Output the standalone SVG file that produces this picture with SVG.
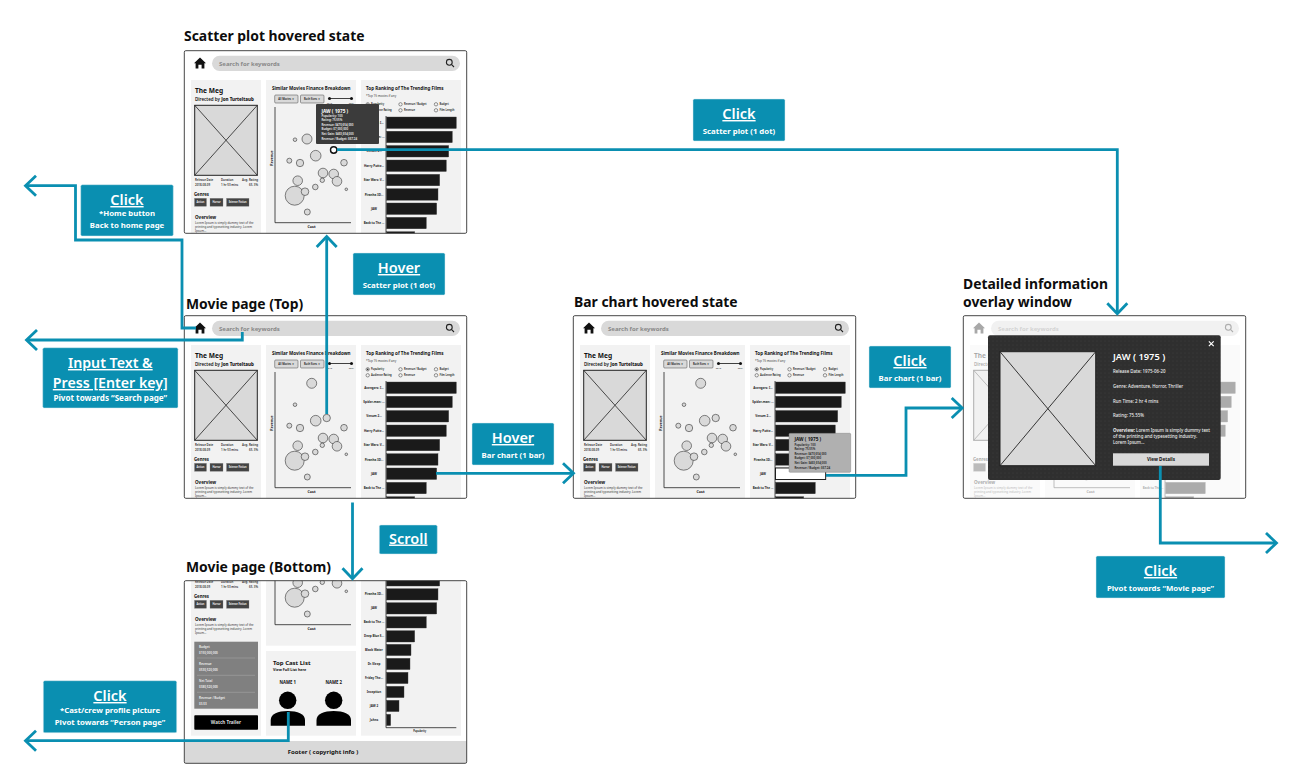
<svg xmlns="http://www.w3.org/2000/svg" width="1300" height="779" viewBox="0 0 1300 779">
<style>
text{font-family:"Noto Sans","Open Sans","Liberation Sans",sans-serif;fill:#111}
.h{font-size:13.9px;font-weight:700;fill:#0d0d0d}
.s{font-size:6px;font-weight:700;fill:#888}
.t{font-size:6.6px;font-weight:700}
.d{font-size:4.5px;font-weight:600}
.m{font-size:2.9px;font-weight:600;fill:#333}
.g{font-size:4.3px;font-weight:700}
.gb{font-size:2.5px;fill:#fff;text-anchor:middle;font-weight:600}
.o{font-size:4.5px;font-weight:700}
.ot{font-size:3px;fill:#333}
.pt{font-size:4.55px;font-weight:700}
.dd{font-size:2.6px;font-weight:600;text-anchor:middle}
.sl{font-size:2.4px;text-anchor:middle;fill:#333}
.sub{font-size:3px;fill:#333}
.r{font-size:2.6px;font-weight:600;fill:#222}
.bl{font-size:3px;font-weight:700;text-anchor:middle;fill:#222}
.ax{font-size:3.6px;font-weight:700;text-anchor:middle}
.tip{font-size:2.9px;font-weight:600;fill:#eee}
.tipt{font-size:4.7px;font-weight:700;fill:#fff}
.tipd{font-size:2.9px;font-weight:600;fill:#222}
.tipdt{font-size:4.7px;font-weight:700;fill:#111}
.ol{font-size:4.4px;fill:#eee;font-weight:500}
.w{fill:#fff;text-anchor:middle}
.bt{font-size:14.5px;font-weight:600;text-decoration:underline}
.bi{font-size:14.2px;font-weight:600;text-decoration:underline}
.bs{font-size:7.8px;font-weight:700}
.box{fill:#0a8fb1;stroke:#d5e8ee;stroke-width:.5}
.c{fill:none;stroke:#0a8fb1;stroke-width:2.8;marker-end:url(#arrow)}
.dot circle{fill:#d9d9d9;stroke:#333;stroke-width:.6}
.pn{fill:#f2f2f2}
.bar{fill:#1a1a1a;stroke:#444;stroke-width:.4}
.ps{fill:#d9d9d9;stroke:#222;stroke-width:1}
.rd{fill:#f2f2f2;stroke:#333;stroke-width:.5}
.ddr{fill:#d9d9d9;stroke:#444;stroke-width:.5}
</style>
<defs>
<marker id="arrow" markerUnits="userSpaceOnUse" markerWidth="16" markerHeight="26" refX="12" refY="13" orient="auto"><path d="M2 3 L12.5 13 L2 23" fill="none" stroke="#0a8fb1" stroke-width="2.8"/></marker>
<pattern id="dots" width="4" height="4" patternUnits="userSpaceOnUse"><rect width="4" height="4" fill="#2f2f2f"/><circle cx="1" cy="1" r=".4" fill="#4d4d4d"/></pattern>
<clipPath id="topclip"><rect x="184.3" y="315.7" width="282.4" height="182.6"/></clipPath>
<clipPath id="botclip"><rect x="184.3" y="580.7" width="282.4" height="182.6"/></clipPath>
<path id="home" d="M200 322.5 L206 328.2 H204.4 V333.5 H201.6 V329.8 H198.4 V333.5 H195.6 V328.2 H194 Z" fill="#111"/>
<g id="glass" fill="none" stroke="#222" stroke-width="1.1"><circle cx="449.3" cy="327.3" r="2.9"/><path d="M451.4 329.4 L454 332"/></g>
<g id="poster"><rect class="ps" x="194.7" y="370.3" width="62.6" height="70"/><path d="M194.7 370.3 L257.3 440.3 M257.3 370.3 L194.7 440.3" stroke="#222" stroke-width=".8"/></g>
<g id="gbtn" fill="#444" stroke="#888" stroke-width=".3"><rect x="194.5" y="463.3" width="12" height="8"/><rect x="210" y="463.3" width="13" height="8"/><rect x="226.5" y="463.3" width="22.5" height="8"/></g>
<g id="dots-shared" class="dot"><circle cx="295" cy="404.7" r="1.8"/><circle cx="315.7" cy="420.7" r="5.3"/><circle cx="289.3" cy="425.7" r="2.5"/><circle cx="300" cy="428" r="3.7"/><circle cx="344" cy="427.7" r="3.3"/><circle cx="323" cy="438" r="4.8"/><circle cx="333.7" cy="439" r="4.8"/><circle cx="322.3" cy="445.3" r="2.2"/><circle cx="337" cy="446.3" r="4.8"/><circle cx="297.7" cy="445.7" r="4.8"/><circle cx="315.3" cy="452" r="2.8"/><circle cx="346.3" cy="454.3" r="1.3"/><circle cx="294.7" cy="460.7" r="9.5"/><circle cx="305" cy="456.7" r="3.8"/><circle cx="307.3" cy="477" r="3"/></g>
<g id="page-base">
<rect x="184.3" y="315.7" width="282.4" height="182.6" fill="#fff"/>
<g clip-path="url(#topclip)">
<use href="#home"/>
<rect x="212" y="320.7" width="248" height="15.4" rx="7.7" fill="#d9d9d9"/>
<use href="#glass"/>
<rect class="pn" x="191" y="345" width="70" height="160"/>
<rect class="pn" x="266" y="345" width="90" height="160"/>
<rect class="pn" x="361" y="345" width="100" height="160"/>
<use href="#poster"/>
<use href="#gbtn"/>
<rect class="ddr" x="274.7" y="360" width="23.3" height="8" rx="1"/>
<rect class="ddr" x="300.5" y="360" width="23.5" height="8" rx="1"/>
<path d="M329.5 363.5 H351.5" stroke="#111" stroke-width=".8"/><circle cx="329.5" cy="363.5" r="1.5" fill="#111"/><circle cx="351.5" cy="363.5" r="1.5" fill="#111"/>
<path d="M275 372 V487.7 H351" fill="none" stroke="#222" stroke-width=".8"/>
<circle class="rd" cx="367.7" cy="369.3" r="1.7"/><circle cx="367.7" cy="369.3" r=".9" fill="#333"/><circle class="rd" cx="400.5" cy="369.3" r="1.7"/><circle class="rd" cx="436" cy="369.3" r="1.7"/><circle class="rd" cx="367.7" cy="375.3" r="1.7"/><circle class="rd" cx="400.5" cy="375.3" r="1.7"/><circle class="rd" cx="436" cy="375.3" r="1.7"/>
<rect class="bar" x="386.5" y="382" width="69.8" height="11.5"/><rect class="bar" x="386.5" y="396.2" width="65.8" height="11.5"/><rect class="bar" x="386.5" y="410.5" width="62.2" height="11.5"/><rect class="bar" x="386.5" y="425" width="59.8" height="11.5"/><rect class="bar" x="386.5" y="439.3" width="53.2" height="11.5"/><rect class="bar" x="386.5" y="453.7" width="51.5" height="11.5"/><rect class="bar" x="386.5" y="468" width="50.2" height="11.5"/><rect class="bar" x="386.5" y="482.3" width="39.8" height="11.5"/><rect class="bar" x="386.5" y="496.7" width="28.2" height="11.5"/>
<path d="M386 381 V499" stroke="#222" stroke-width=".8"/>
</g>
</g>
</defs>

<g id="scatter-hovered">
<text class="h" x="184" y="41">Scatter plot hovered state</text>
<g transform="translate(0,-265)">
<use href="#page-base"/>
<use href="#dots-shared"/>
<g class="dot"><circle cx="307" cy="404" r="5"/></g>
<text class="s" x="219" y="330.6">Search for keywords</text>
<text class="t" x="195" y="357.8">The Meg</text>
<text class="d" x="195" y="365.5">Directed by <tspan font-weight="800">Jon Turteltaub</tspan></text>
<text class="m" x="195" y="446">Release Date</text><text class="m" x="221" y="446">Duration</text><text class="m" x="242" y="446">Avg. Rating</text>
<text class="m" x="195" y="451">2018-08-09</text><text class="m" x="221" y="451">1 hr 53 mins</text><text class="m" x="249" y="451">65. 3%</text>
<text class="g" x="194" y="461">Genres</text>
<text class="gb" x="200.5" y="468.2">Action</text><text class="gb" x="216.5" y="468.2">Horror</text><text class="gb" x="237.7" y="468.2">Science Fiction</text>
<text class="o" x="195" y="484">Overview</text>
<text class="ot" x="195" y="489.2">Lorem Ipsum is simply dummy text of the</text><text class="ot" x="195" y="493.2">printing and typesetting industry. Lorem</text><text class="ot" x="195" y="497.2">Ipsum...</text>
<text class="pt" x="272" y="354.5">Similar Movies Finance Breakdown</text>
<text class="dd" x="286.3" y="365">All Movies ▼</text><text class="dd" x="312.2" y="365">Both Sizes ▼</text>
<text class="sl" x="329.5" y="368.5">2018</text><text class="sl" x="351.5" y="368.5">2021</text>
<text class="ax" x="311.5" y="493">Cost</text>
<text class="ax" transform="translate(272.8,423) rotate(-90)">Revenue</text>
<text class="pt" x="366" y="354.5">Top Ranking of The Trending Films</text>
<text class="sub" x="366" y="361.5">*Top 15 movies if any</text>
<text class="r" x="371" y="370.2">Popularity</text><text class="r" x="404" y="370.2">Revenue / Budget</text><text class="r" x="439.5" y="370.2">Budget</text>
<text class="r" x="371" y="376.2">Audience Rating</text><text class="r" x="404" y="376.2">Revenue</text><text class="r" x="439.5" y="376.2">Film Length</text>
<text class="bl" x="374" y="388.8">Avengers: I...</text><text class="bl" x="374" y="403">Spider-man: ...</text><text class="bl" x="374" y="417.4">Venom 2...</text><text class="bl" x="374" y="431.7">Harry Potte...</text><text class="bl" x="374" y="446.2">Star Wars: V...</text><text class="bl" x="374" y="460.5">Piranha 3D...</text><text class="bl" x="374" y="474.8">JAW</text><text class="bl" x="374" y="489.2">Back to The ...</text>
<rect x="316" y="369" width="63" height="40" rx="1" fill="#3b3b3b"/>
<text class="tipt" x="321.5" y="378">JAW ( 1975 )</text>
<text class="tip" x="321.5" y="382">Popularity: 100</text><text class="tip" x="321.5" y="386.3">Rating: 75.55%</text><text class="tip" x="321.5" y="390.8">Revenue: $470,654,000</text><text class="tip" x="321.5" y="395.2">Budget: $7,000,000</text><text class="tip" x="321.5" y="400">Net Gain: $463,654,000</text><text class="tip" x="321.5" y="404.5">Revenue / Budget: $67.24</text>
<circle cx="333.7" cy="415" r="3.2" fill="#fff" stroke="#111" stroke-width="1.4"/>
<rect x="184.3" y="315.7" width="282.4" height="182.6" rx="1.5" fill="none" stroke="#333" stroke-width=".9"/>
</g>
</g>

<g id="movie-top">
<text class="h" x="186" y="309">Movie page (Top)</text>
<use href="#page-base"/>
<use href="#dots-shared"/>
<g class="dot"><circle cx="311.7" cy="383.3" r="5"/><circle cx="326.7" cy="418" r="3.7"/></g>
<text class="s" x="219" y="330.6">Search for keywords</text>
<text class="t" x="195" y="357.8">The Meg</text>
<text class="d" x="195" y="365.5">Directed by <tspan font-weight="800">Jon Turteltaub</tspan></text>
<text class="m" x="195" y="446">Release Date</text><text class="m" x="221" y="446">Duration</text><text class="m" x="242" y="446">Avg. Rating</text>
<text class="m" x="195" y="451">2018-08-09</text><text class="m" x="221" y="451">1 hr 53 mins</text><text class="m" x="249" y="451">65. 3%</text>
<text class="g" x="194" y="461">Genres</text>
<text class="gb" x="200.5" y="468.2">Action</text><text class="gb" x="216.5" y="468.2">Horror</text><text class="gb" x="237.7" y="468.2">Science Fiction</text>
<text class="o" x="195" y="484">Overview</text>
<text class="ot" x="195" y="489.2">Lorem Ipsum is simply dummy text of the</text><text class="ot" x="195" y="493.2">printing and typesetting industry. Lorem</text><text class="ot" x="195" y="497.2">Ipsum...</text>
<text class="pt" x="272" y="354.5">Similar Movies Finance Breakdown</text>
<text class="dd" x="286.3" y="365">All Movies ▼</text><text class="dd" x="312.2" y="365">Both Sizes ▼</text>
<text class="sl" x="329.5" y="368.5">2018</text><text class="sl" x="351.5" y="368.5">2021</text>
<text class="ax" x="311.5" y="493">Cost</text>
<text class="ax" transform="translate(272.8,423) rotate(-90)">Revenue</text>
<text class="pt" x="366" y="354.5">Top Ranking of The Trending Films</text>
<text class="sub" x="366" y="361.5">*Top 15 movies if any</text>
<text class="r" x="371" y="370.2">Popularity</text><text class="r" x="404" y="370.2">Revenue / Budget</text><text class="r" x="439.5" y="370.2">Budget</text>
<text class="r" x="371" y="376.2">Audience Rating</text><text class="r" x="404" y="376.2">Revenue</text><text class="r" x="439.5" y="376.2">Film Length</text>
<text class="bl" x="374" y="388.8">Avengers: I...</text><text class="bl" x="374" y="403">Spider-man: ...</text><text class="bl" x="374" y="417.4">Venom 2...</text><text class="bl" x="374" y="431.7">Harry Potte...</text><text class="bl" x="374" y="446.2">Star Wars: V...</text><text class="bl" x="374" y="460.5">Piranha 3D...</text><text class="bl" x="374" y="474.8">JAW</text><text class="bl" x="374" y="489.2">Back to The ...</text>
<rect x="184.3" y="315.7" width="282.4" height="182.6" rx="1.5" fill="none" stroke="#333" stroke-width=".9"/>
</g>

<g id="bar-hovered">
<text class="h" x="574" y="307">Bar chart hovered state</text>
<g transform="translate(389,0)">
<use href="#page-base"/>
<use href="#dots-shared"/>
<g class="dot"><circle cx="311.7" cy="383.3" r="5"/><circle cx="326.7" cy="418" r="3.7"/></g>
<text class="s" x="219" y="330.6">Search for keywords</text>
<text class="t" x="195" y="357.8">The Meg</text>
<text class="d" x="195" y="365.5">Directed by <tspan font-weight="800">Jon Turteltaub</tspan></text>
<text class="m" x="195" y="446">Release Date</text><text class="m" x="221" y="446">Duration</text><text class="m" x="242" y="446">Avg. Rating</text>
<text class="m" x="195" y="451">2018-08-09</text><text class="m" x="221" y="451">1 hr 53 mins</text><text class="m" x="249" y="451">65. 3%</text>
<text class="g" x="194" y="461">Genres</text>
<text class="gb" x="200.5" y="468.2">Action</text><text class="gb" x="216.5" y="468.2">Horror</text><text class="gb" x="237.7" y="468.2">Science Fiction</text>
<text class="o" x="195" y="484">Overview</text>
<text class="ot" x="195" y="489.2">Lorem Ipsum is simply dummy text of the</text><text class="ot" x="195" y="493.2">printing and typesetting industry. Lorem</text><text class="ot" x="195" y="497.2">Ipsum...</text>
<text class="pt" x="272" y="354.5">Similar Movies Finance Breakdown</text>
<text class="dd" x="286.3" y="365">All Movies ▼</text><text class="dd" x="312.2" y="365">Both Sizes ▼</text>
<text class="sl" x="329.5" y="368.5">2018</text><text class="sl" x="351.5" y="368.5">2021</text>
<text class="ax" x="311.5" y="493">Cost</text>
<text class="ax" transform="translate(272.8,423) rotate(-90)">Revenue</text>
<text class="pt" x="366" y="354.5">Top Ranking of The Trending Films</text>
<text class="sub" x="366" y="361.5">*Top 15 movies if any</text>
<text class="r" x="371" y="370.2">Popularity</text><text class="r" x="404" y="370.2">Revenue / Budget</text><text class="r" x="439.5" y="370.2">Budget</text>
<text class="r" x="371" y="376.2">Audience Rating</text><text class="r" x="404" y="376.2">Revenue</text><text class="r" x="439.5" y="376.2">Film Length</text>
<text class="bl" x="374" y="388.8">Avengers: I...</text><text class="bl" x="374" y="403">Spider-man: ...</text><text class="bl" x="374" y="417.4">Venom 2...</text><text class="bl" x="374" y="431.7">Harry Potte...</text><text class="bl" x="374" y="446.2">Star Wars: V...</text><text class="bl" x="374" y="460.5">Piranha 3D...</text><text class="bl" x="374" y="474.8">JAW</text><text class="bl" x="374" y="489.2">Back to The ...</text>
<rect x="386.5" y="468" width="50.2" height="11.5" fill="#fff" stroke="#111" stroke-width=".9"/>
<rect x="400" y="433.3" width="61.7" height="39" rx="1" fill="#b0b0b0" stroke="#777" stroke-width=".4"/>
<text class="tipdt" x="405.5" y="441">JAW ( 1975 )</text>
<text class="tipd" x="405.5" y="446">Popularity: 100</text><text class="tipd" x="405.5" y="450.3">Rating: 75.55%</text><text class="tipd" x="405.5" y="454.8">Revenue: $470,654,000</text><text class="tipd" x="405.5" y="459.2">Budget: $7,000,000</text><text class="tipd" x="405.5" y="464">Net Gain: $463,654,000</text><text class="tipd" x="405.5" y="468.5">Revenue / Budget: $67.24</text>
<rect x="184.3" y="315.7" width="282.4" height="182.6" rx="1.5" fill="none" stroke="#333" stroke-width=".9"/>
</g>
</g>

<g id="overlay-window">
<text class="h" x="963" y="289">Detailed information</text>
<text class="h" x="963" y="307">overlay window</text>
<g transform="translate(779,0)">
<g opacity=".36">
<use href="#page-base"/>
<use href="#dots-shared"/>
<text class="s" x="219" y="330.6">Search for keywords</text>
<text class="t" x="195" y="357.8">The Meg</text>
<text class="d" x="195" y="365.5">Directed by Jon Turteltaub</text>
<text class="g" x="194" y="461">Genres</text>
<text class="o" x="195" y="484">Overview</text>
<text class="ot" x="195" y="489.2">Lorem Ipsum is simply dummy text of the</text><text class="ot" x="195" y="493.2">printing and typesetting industry. Lorem</text><text class="ot" x="195" y="497.2">Ipsum...</text>
<text class="ax" x="311.5" y="493">Cost</text>
<text class="bl" x="374" y="489.2">Back to The ...</text>
</g>
<rect x="184.3" y="315.7" width="282.4" height="182.6" rx="1.5" fill="none" stroke="#333" stroke-width=".9"/>
</g>
<rect x="988" y="335.3" width="232.7" height="144.7" rx="2" fill="url(#dots)"/>
<rect class="ps" x="1000" y="351.7" width="95.7" height="114"/>
<path d="M1000 351.7 L1095.7 465.7 M1095.7 351.7 L1000 465.7" stroke="#222" stroke-width=".9"/>
<path d="M1208.9 341.3 L1213.7 346.1 M1213.7 341.3 L1208.9 346.1" stroke="#fff" stroke-width="1.2"/>
<text x="1113" y="360" font-size="9.3" font-weight="600" style="fill:#fff">JAW ( 1975 )</text>
<text class="ol" x="1113" y="373.4">Release Date: 1975-06-20</text>
<text class="ol" x="1113" y="388">Genre: Adventure, Horror, Thriller</text>
<text class="ol" x="1113" y="402.7">Run Time: 2 hr 4 mins</text>
<text class="ol" x="1113" y="417.4">Rating: 75.55%</text>
<text class="ol" x="1113" y="432"><tspan font-weight="700">Overview:</tspan> Lorem Ipsum is simply dummy text</text>
<text class="ol" x="1113" y="438.2">of the printing and typesetting industry.</text>
<text class="ol" x="1113" y="444.4">Lorem Ipsum...</text>
<rect x="1113" y="453.3" width="96" height="12.4" fill="#d9d9d9"/>
<text x="1161" y="461.2" font-size="4.6" font-weight="700" text-anchor="middle">View Details</text>
</g>

<g id="movie-bottom">
<text class="h" x="186" y="572">Movie page (Bottom)</text>
<rect x="184.3" y="580.7" width="282.4" height="182.6" fill="#fff"/>
<g clip-path="url(#botclip)">
<rect class="pn" x="191" y="570" width="70" height="165.7"/>
<rect class="pn" x="266" y="570" width="90" height="75.7"/>
<rect class="pn" x="266" y="651" width="90" height="84.7"/>
<rect class="pn" x="361" y="570" width="100" height="165.7"/>
<g transform="translate(0,137)"><use href="#dots-shared"/><use href="#gbtn"/><path d="M275 372 V487.7 H351" fill="none" stroke="#222" stroke-width=".8"/></g>
<text class="m" x="195" y="583">Release Date</text><text class="m" x="221" y="583">Duration</text><text class="m" x="242" y="583">Avg. Rating</text>
<text class="m" x="195" y="588">2018-08-09</text><text class="m" x="221" y="588">1 hr 53 mins</text><text class="m" x="249" y="588">65. 3%</text>
<text class="g" x="194" y="598">Genres</text>
<text class="gb" x="200.5" y="605.2">Action</text><text class="gb" x="216.5" y="605.2">Horror</text><text class="gb" x="237.7" y="605.2">Science Fiction</text>
<text class="o" x="195" y="621">Overview</text>
<text class="ot" x="195" y="626.2">Lorem Ipsum is simply dummy text of the</text><text class="ot" x="195" y="630.2">printing and typesetting industry. Lorem</text><text class="ot" x="195" y="634.2">Ipsum...</text>
<text class="ax" x="311.5" y="630">Cost</text>
<rect x="194.3" y="641.7" width="63.7" height="67" fill="#808080"/>
<path d="M197 658 H255 M197 675.3 H255 M197 692.3 H255" stroke="#aaa" stroke-width=".5"/>
<g font-size="3" font-weight="600"><text x="199" y="648" style="fill:#eee">Budget</text><text x="199" y="654" style="fill:#eee">$150,000,000</text><text x="199" y="665" style="fill:#eee">Revenue</text><text x="199" y="671" style="fill:#eee">$530,520,000</text><text x="199" y="682.3" style="fill:#eee">Net Total</text><text x="199" y="688" style="fill:#eee">$380,520,000</text><text x="199" y="699.3" style="fill:#eee">Revenue / Budget</text><text x="199" y="705" style="fill:#eee">$3.53</text></g>
<rect x="194.3" y="715.3" width="63.7" height="14.4" rx=".8" fill="#000"/>
<text x="226" y="724" font-size="4.6" font-weight="700" text-anchor="middle" style="fill:#ddd">Watch Trailer</text>
<text x="273" y="664.8" font-size="6" font-weight="700">Top Cast List</text>
<text x="273" y="671" font-size="3.7" font-weight="700">View Full List here</text>
<text x="287.7" y="684.3" font-size="4.3" font-weight="700" text-anchor="middle">NAME 1</text>
<text x="333.7" y="684.3" font-size="4.3" font-weight="700" text-anchor="middle">NAME 2</text>
<g fill="#000"><circle cx="287.7" cy="700.3" r="8.7"/><path d="M270.7 725.7 V720 C270.7 714 278 711 287.7 711 C297.5 711 305 714 305 720 V725.7 Z"/><circle cx="333.7" cy="700.3" r="8.7"/><path d="M316.5 725.7 V720 C316.5 714 324 711 333.7 711 C343.5 711 351 714 351 720 V725.7 Z"/></g>
<rect class="bar" x="386.5" y="574.7" width="53.2" height="11.3"/><rect class="bar" x="386.5" y="588.7" width="51.5" height="11.3"/><rect class="bar" x="386.5" y="602.7" width="50.2" height="11.3"/><rect class="bar" x="386.5" y="616.7" width="39.8" height="11.3"/><rect class="bar" x="386.5" y="630.7" width="28.2" height="11.3"/><rect class="bar" x="386.5" y="644.3" width="24.5" height="11.3"/><rect class="bar" x="386.5" y="658.3" width="23.5" height="11.3"/><rect class="bar" x="386.5" y="672.3" width="21.5" height="11.3"/><rect class="bar" x="386.5" y="686.3" width="17.5" height="11.3"/><rect class="bar" x="386.5" y="700.3" width="12.5" height="11.3"/><rect class="bar" x="386.5" y="714.3" width="4.2" height="11.3"/>
<path d="M386 575 V727.7 H456.3" fill="none" stroke="#222" stroke-width=".8"/>
<text class="bl" x="374" y="594.8">Piranha 3D...</text><text class="bl" x="374" y="608.8">JAW</text><text class="bl" x="374" y="622.8">Back to The ...</text><text class="bl" x="374" y="636.8">Deep Blue S...</text><text class="bl" x="374" y="650.5">Black Water</text><text class="bl" x="374" y="664.5">Dr. Sleep</text><text class="bl" x="374" y="678.5">Friday The...</text><text class="bl" x="374" y="692.5">Inception</text><text class="bl" x="374" y="706.5">JAW 2</text><text class="bl" x="374" y="720.5">Johns</text>
<text x="419.7" y="732" font-size="2.6" font-weight="600" text-anchor="middle">Popularity</text>
<rect x="184.3" y="741" width="282.4" height="23" fill="#d9d9d9"/>
<text x="323" y="754" font-size="6" font-weight="700" text-anchor="middle">Footer ( copyright info )</text>
</g>
<rect x="184.3" y="580.7" width="282.4" height="182.6" rx="1.5" fill="none" stroke="#333" stroke-width=".9"/>
</g>

<g id="connectors">
<path class="c" d="M337 149.7 H1117.3 V313.3"/>
<path class="c" d="M326.7 414 V237"/>
<path class="c" d="M196 328 H182 V240 H75.5 V185.7 H26"/>
<path class="c" d="M242.3 332 V340 H27"/>
<path class="c" d="M436 473.3 H573"/>
<path class="c" d="M826 475.3 H906 V408 H961.7"/>
<path class="c" d="M1160.3 466 V543 H1276"/>
<path class="c" d="M352.5 502.5 V578.3"/>
<path class="c" d="M288.3 712 V740.7 H26"/>
</g>

<g id="label-click-home"><rect class="box" x="80.7" y="184.7" width="92.6" height="51.3" rx="1.5"/><text class="w bt" x="127" y="205">Click</text><text class="w bs" x="127" y="216">*Home button</text><text class="w bs" x="127" y="228">Back to home page</text></g>
<g id="label-input"><rect class="box" x="42.7" y="347.7" width="135.3" height="60.3" rx="1.5"/><text class="w bi" x="110.3" y="368">Input Text &amp;</text><text class="w bi" x="110.3" y="388">Press [Enter key]</text><text class="w bs" x="110.3" y="400.5" style="font-size:8.1px">Pivot towards “Search page”</text></g>
<g id="label-hover-scatter"><rect class="box" x="353" y="253" width="92" height="42" rx="1.5"/><text class="w bt" x="399" y="273">Hover</text><text class="w bs" x="399" y="288">Scatter plot (1 dot)</text></g>
<g id="label-click-scatter"><rect class="box" x="693" y="99" width="92" height="42" rx="1.5"/><text class="w bt" x="739" y="119">Click</text><text class="w bs" x="739" y="134">Scatter plot (1 dot)</text></g>
<g id="label-hover-bar"><rect class="box" x="472" y="423" width="82" height="42" rx="1.5"/><text class="w bt" x="513" y="443">Hover</text><text class="w bs" x="513" y="457.5">Bar chart (1 bar)</text></g>
<g id="label-click-bar"><rect class="box" x="869" y="346" width="82" height="42" rx="1.5"/><text class="w bt" x="910" y="366">Click</text><text class="w bs" x="910" y="380.5">Bar chart (1 bar)</text></g>
<g id="label-scroll"><rect class="box" x="379.3" y="525" width="58" height="29" rx="1.5"/><text class="w bt" x="408.3" y="543.5">Scroll</text></g>
<g id="label-click-view"><rect class="box" x="1096" y="556" width="129" height="42" rx="1.5"/><text class="w bt" x="1160.5" y="576">Click</text><text class="w bs" x="1160.5" y="591">Pivot towards “Movie page”</text></g>
<g id="label-click-cast"><rect class="box" x="43.3" y="680.7" width="133.4" height="52" rx="1.5"/><text class="w bt" x="110" y="701">Click</text><text class="w bs" x="110" y="712.5">*Cast/crew profile picture</text><text class="w bs" x="110" y="724.5">Pivot towards “Person page”</text></g>
</svg>
